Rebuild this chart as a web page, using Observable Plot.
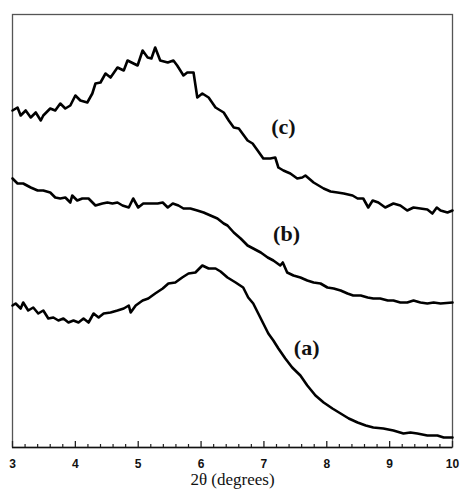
<!DOCTYPE html>
<html>
<head>
<meta charset="utf-8">
<script src="https://cdn.jsdelivr.net/npm/d3@7"></script>
<script src="https://cdn.jsdelivr.net/npm/@observablehq/plot@0.6"></script>
<style>
  html, body { margin: 0; padding: 0; background: #fff; }
  #chart svg { display: block; }
</style>
</head>
<body>
<div id="chart"></div>
<script>
// 2θ (degrees) and intensity (arbitrary units, offset traces)
const c_x = [3.00,3.08,3.13,3.21,3.29,3.37,3.45,3.49,3.60,3.68,3.76,3.84,3.92,4.00,4.08,4.19,4.27,4.32,4.40,4.48,4.56,4.67,4.77,4.83,4.99,5.07,5.15,5.21,5.27,5.35,5.47,5.56,5.62,5.72,5.78,5.88,5.94,6.02,6.12,6.23,6.36,6.44,6.52,6.60,6.74,6.82,6.90,6.99,7.10,7.18,7.23,7.31,7.42,7.53,7.61,7.66,7.79,7.95,8.06,8.17,8.27,8.41,8.49,8.58,8.66,8.73,8.82,8.93,9.06,9.17,9.28,9.38,9.49,9.60,9.68,9.75,9.81,9.92,10.00];
const c_y = [337,340,332,337,330,335,327,332,339,337,344,339,342,352,347,345,354,364,365,374,370,380,377,387,382,397,390,389,400,387,385,387,382,372,375,375,350,354,350,340,335,327,320,319,307,304,297,289,289,290,280,277,274,269,270,272,265,259,256,255,254,252,249,249,240,247,245,240,244,242,237,240,239,238,234,240,237,235,237];

const b_x = [3.00,3.08,3.17,3.29,3.40,3.49,3.60,3.68,3.76,3.84,3.92,3.95,4.03,4.11,4.21,4.32,4.43,4.51,4.59,4.67,4.75,4.85,4.92,5.00,5.08,5.20,5.31,5.39,5.47,5.55,5.64,5.72,5.83,5.94,6.04,6.15,6.26,6.36,6.42,6.52,6.63,6.74,6.83,6.95,7.06,7.15,7.26,7.30,7.37,7.47,7.58,7.69,7.79,7.90,8.01,8.11,8.22,8.33,8.42,8.54,8.65,8.74,8.85,8.97,9.06,9.17,9.28,9.38,9.49,9.60,9.70,9.81,10.00];
const b_y = [269,264,264,260,257,257,255,250,249,250,245,252,247,249,249,242,244,245,244,245,242,240,249,240,244,244,244,245,240,244,242,239,239,237,235,232,229,224,222,215,209,202,199,195,190,187,182,185,175,172,170,167,165,164,160,159,157,154,152,152,150,149,149,147,147,145,145,147,145,144,145,144,145];

const a_x = [3.00,3.05,3.13,3.17,3.25,3.33,3.41,3.49,3.57,3.65,3.73,3.81,3.89,3.97,4.05,4.13,4.21,4.29,4.37,4.45,4.56,4.67,4.77,4.85,4.88,4.96,5.07,5.16,5.27,5.39,5.48,5.59,5.70,5.80,5.91,6.02,6.12,6.23,6.31,6.42,6.55,6.67,6.75,6.83,6.91,6.99,7.07,7.15,7.23,7.34,7.45,7.58,7.69,7.82,7.95,8.09,8.22,8.35,8.49,8.62,8.74,8.90,9.06,9.22,9.33,9.44,9.60,9.76,9.86,10.00];
const a_y = [142,144,139,145,137,140,134,137,129,130,127,129,125,127,125,129,125,134,130,134,135,137,139,142,135,142,147,149,154,159,164,165,170,174,175,182,179,179,176,170,165,160,150,144,134,124,114,107,99,89,80,72,62,52,45,39,34,29,25,22,20,19,17,14,15,14,12,12,10,10];

const majorTicks = [3,4,5,6,7,8,9,10];
const minorTicks = [3.2,3.4,3.6,3.8,4.2,4.4,4.6,4.8,5.2,5.4,5.6,5.8,6.2,6.4,6.6,6.8,7.2,7.4,7.6,7.8,8.2,8.4,8.6,8.8,9.2,9.4,9.6,9.8];

const seriesNames = ["(a)","(b)","(c)"];
const labelX = [7.68, 7.36, 7.31];
const labelY = [100, 214, 321];
const xTitle = "2θ (degrees)";

const traces = [
  ...a_x.map((x,i)=>({series:"a", x, y:a_y[i]})),
  ...b_x.map((x,i)=>({series:"b", x, y:b_y[i]})),
  ...c_x.map((x,i)=>({series:"c", x, y:c_y[i]}))
];
const labels = seriesNames.map((t,i)=>({t, x:labelX[i], y:labelY[i]}));

const chart = Plot.plot({
  width: 461,
  height: 495,
  marginLeft: 12,
  marginRight: 9,
  marginTop: 14,
  marginBottom: 48,
  x: {domain: [3, 10]},
  y: {domain: [0, 433], axis: null},
  marks: [
    Plot.frame({stroke: "#555", strokeWidth: 1.3}),
    Plot.ruleY([0], {stroke: "#111", strokeWidth: 1.6}),
    Plot.ruleX(majorTicks, {insetTop: 427, stroke: "#222", strokeWidth: 1.3}),
    Plot.ruleX(minorTicks, {insetTop: 430, stroke: "#222", strokeWidth: 1.2}),
    Plot.axisX({ticks: majorTicks, tickFormat: d3.format("d"), tickSize: 0, tickPadding: 12, label: null,
      fontSize: 12, fontWeight: "bold", fontFamily: "Liberation Sans, Arial, sans-serif", fill: "#111"}),
    Plot.text([xTitle], {frameAnchor: "bottom", dy: 37, fontSize: 17,
      fontFamily: "Liberation Serif, Times New Roman, serif", fill: "#111"}),
    Plot.line(traces, {x: "x", y: "y", z: "series", stroke: "#000", strokeWidth: 2.6,
      strokeLinejoin: "round", strokeLinecap: "round"}),
    Plot.text(labels, {x: "x", y: "y", text: "t", fontSize: 22, fontWeight: "bold",
      fontFamily: "Liberation Serif, Times New Roman, serif", fill: "#111"})
  ]
});
document.getElementById("chart").appendChild(chart);
</script>
</body>
</html>
